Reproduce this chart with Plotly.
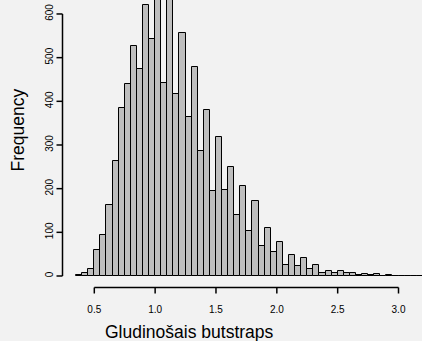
import numpy as np
import plotly.graph_objects as go

# Histogram of smoothed bootstrap estimates: bins of width 0.05 starting at 0.35
bin_start = 0.35
bin_width = 0.05
counts = [
    2, 7, 17, 59, 95, 163, 263, 384, 440, 527,
    475, 620, 543, 652, 441, 648, 417, 556, 363, 479,
    286, 379, 195, 318, 197, 249, 140, 205, 103, 171,
    68, 109, 54, 77, 26, 47, 24, 41, 16, 25,
    8, 11, 8, 11, 7, 6, 3, 5, 2, 5,
    0, 2, 0, 0, 0, 1, 1,
]
x_ticks = [0.5, 1.0, 1.5, 2.0, 2.5, 3.0]
x_tick_labels = ["0.5", "1.0", "1.5", "2.0", "2.5", "3.0"]
y_ticks = [0, 100, 200, 300, 400, 500, 600]
y_tick_labels = ["0", "100", "200", "300", "400", "500", "600"]
x_title = "Gludinošais butstraps"
y_title = "Frequency"

centers = np.round(bin_start + bin_width * (np.arange(len(counts)) + 0.5), 4)

W, H = 422, 341
ML, MB = 56, 41          # plot area: x 56..422, y 0..300
PW, PH = W - ML, H - MB
XR = [0.1853, 3.193]
YR = [-54.96, 632]
BG = "#f2f2f2"
FONT = "Liberation Sans, Arial, Helvetica, sans-serif"
BLACK = "#000000"


def px_to_x(px):
    """Horizontal page pixel -> x data value."""
    return XR[0] + (px - ML) / PW * (XR[1] - XR[0])


def py_to_y(py):
    """Vertical page pixel -> y data value."""
    return YR[0] + (PH - py) / PH * (YR[1] - YR[0])


# R-style detached axes: axis lines sit a little outside the data region
AXIS_X_PX, AXIS_Y_PX, TICK = 62.5, 287.5, 6
y_axis_x = px_to_x(AXIS_X_PX)
y_tick_x = px_to_x(AXIS_X_PX - TICK)
x_axis_y = py_to_y(AXIS_Y_PX)
x_tick_y = py_to_y(AXIS_Y_PX + TICK)

ax_x, ax_y = [x_ticks[0], x_ticks[-1], None], [x_axis_y, x_axis_y, None]
for t in x_ticks:
    ax_x += [t, t, None]
    ax_y += [x_axis_y, x_tick_y, None]
ax_x += [y_axis_x, y_axis_x, None]
ax_y += [y_ticks[0], y_ticks[-1], None]
for t in y_ticks:
    ax_x += [y_axis_x, y_tick_x, None]
    ax_y += [t, t, None]

fig = go.Figure()
fig.add_trace(
    go.Bar(
        x=centers,
        y=counts,
        width=bin_width,
        marker=dict(color="#bebebe", line=dict(color=BLACK, width=1)),
        hoverinfo="skip",
    )
)
fig.add_trace(
    go.Scatter(
        x=ax_x, y=ax_y, mode="lines",
        line=dict(color=BLACK, width=1.5),
        hoverinfo="skip", connectgaps=False,
    )
)

fig.update_layout(
    width=W,
    height=H,
    margin=dict(l=ML, r=0, t=0, b=MB, pad=0),
    paper_bgcolor=BG,
    plot_bgcolor=BG,
    bargap=0,
    showlegend=False,
    font=dict(family=FONT, color=BLACK),
    xaxis=dict(
        range=XR,
        showgrid=False,
        zeroline=False,
        showline=False,
        tickmode="array",
        tickvals=x_ticks,
        ticktext=x_tick_labels,
        ticks="",
        tickfont=dict(size=10, family=FONT),
        ticklabelstandoff=2,
    ),
    yaxis=dict(
        range=YR,
        showgrid=False,
        zeroline=False,
        showline=False,
        tickmode="array",
        tickvals=y_ticks,
        ticktext=y_tick_labels,
        tickangle=-90,
        ticks="",
        tickfont=dict(size=10, family=FONT),
        ticklabelstandoff=0,
    ),
    annotations=[
        dict(text=x_title, xref="paper", yref="paper",
             x=(189.7 - ML) / PW, y=-(332 - PH) / PH,
             xanchor="center", yanchor="middle", showarrow=False,
             font=dict(size=17.5, family=FONT)),
        dict(text=y_title, xref="paper", yref="paper",
             x=-(ML - 17.5) / PW, y=(PH - 130) / PH,
             xanchor="center", yanchor="middle", textangle=-90, showarrow=False,
             font=dict(size=17.5, family=FONT)),
    ],
)

fig.write_html("out.html")
